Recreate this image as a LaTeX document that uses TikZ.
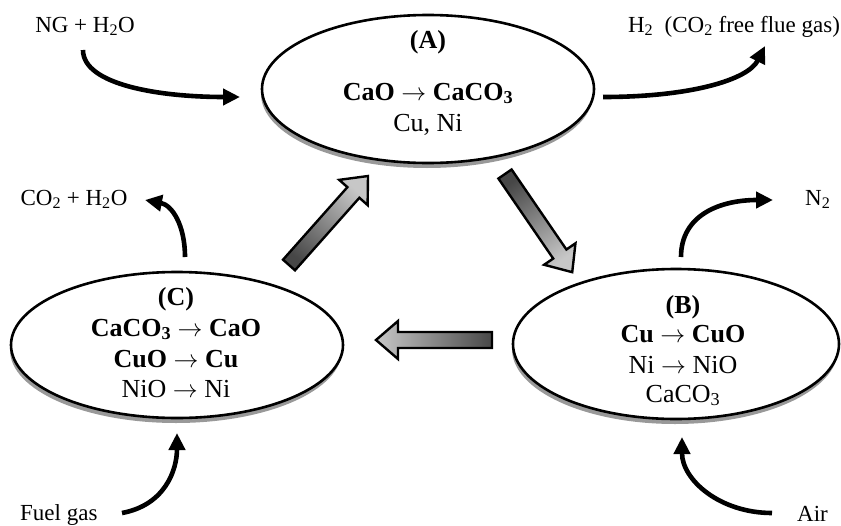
\documentclass[tikz,border=0pt]{standalone}
\usepackage{fontspec}
\setmainfont{Liberation Serif}
\usetikzlibrary{shapes.geometric,arrows.meta,shadows}
\newcommand\blockarrow[3]{%
  \begin{scope}[shift={(#1)}, rotate=#2]
    \shade[blockarr, shading angle=90+#2] (0,-8) -- (#3-22,-8) -- (#3-22,-19) -- (#3,0) -- (#3-22,19) -- (#3-22,8) -- (0,8) -- cycle;
  \end{scope}}
\newcommand\ra{\ensuremath{\rightarrow}}
\begin{document}
\begin{tikzpicture}[x=1pt,y=-1pt,
  reactor/.style={ellipse, draw=black, line width=2.6pt, fill=white, inner sep=0pt,
    minimum width=332pt, minimum height=148pt,
    drop shadow={shadow xshift=-1pt, shadow yshift=-5pt, fill=black!40, opacity=1}},
  big/.style={font=\fontsize{26}{30}\selectfont, inner sep=0pt, anchor=base},
  small/.style={font=\fontsize{23}{27}\selectfont, inner sep=0pt, anchor=base},
  flow/.style={line width=4.6pt, -{Triangle[length=17pt,width=16pt]}},
  blockarr/.style={draw=black, line width=2.4pt, left color=black!72, right color=black!22}
]
\useasboundingbox (0,0) rectangle (841,525);

% reactors
\node[reactor] (A) at (428,89) {};
\node[reactor, minimum width=326pt, minimum height=150pt] (B) at (676,344) {};
\node[reactor, minimum width=332pt, minimum height=146pt] (C) at (177,345) {};

% texts in A
\node[big] (Alab) at (428,48) {\bfseries (A)};
\node[big] (Al1) at (428,100) {\bfseries CaO \ra{} CaCO\textsubscript{3}};
\node[big] (Al2) at (428,131) {Cu, Ni};
% texts in B
\node[big] (Blab) at (683,313) {\bfseries (B)};
\node[big] (Bl1) at (683,342) {\bfseries Cu \ra{} CuO};
\node[big] (Bl2) at (683,373) {Ni \ra{} NiO};
\node[big] (Bl3) at (683,402) {CaCO\textsubscript{3}};
% texts in C
\node[big] (Clab) at (176,305) {\bfseries (C)};
\node[big] (Cl1) at (176,336) {\bfseries CaCO\textsubscript{3} \ra{} CaO};
\node[big] (Cl2) at (176,367) {\bfseries CuO \ra{} Cu};
\node[big] (Cl3) at (176,397) {NiO \ra{} Ni};

% outer labels
\node[small] (ng) at (85,32) {NG + H\textsubscript{2}O};
\node[small] (h2) at (734,32) {H\textsubscript{2}\ \ (CO\textsubscript{2} free flue gas)};
\node[small] (co2) at (74,205) {CO\textsubscript{2} + H\textsubscript{2}O};
\node[small, anchor=base west] (n2) at (805,205) {N\textsubscript{2}};
\node[small, anchor=base west] (fuel) at (20,520) {Fuel gas};
\node[small, anchor=base west] (air) at (797,521) {Air};

% curved stream arrows
\coordinate (ng0) at (83,50);   \coordinate (ng1) at (240,97);
\coordinate (h20) at (603,97);  \coordinate (h21) at (765,46);
\coordinate (co0) at (185,257); \coordinate (co1) at (145,200);
\coordinate (n20) at (681,257); \coordinate (n21) at (773,200);
\coordinate (fu0) at (122,513); \coordinate (fu1) at (177,433);
\coordinate (ai0) at (772,513); \coordinate (ai1) at (682,437);
\draw[flow] (ng0) .. controls (83,85) and (160,97) .. (ng1);
\draw[flow] (h20) .. controls (690,97) and (748,80) .. (h21);
\draw[flow] (co0) .. controls (185,225) and (172,205) .. (co1);
\draw[flow] (n20) .. controls (681,215) and (720,200) .. (n21);
\draw[flow] (fu0) .. controls (165,505) and (177,470) .. (fu1);
\draw[flow] (ai0) .. controls (720,513) and (682,480) .. (ai1);

% block arrows between reactors
\coordinate (t1) at (289,265);
\coordinate (t2) at (505,174);
\coordinate (t3) at (492,340);
\blockarrow{t1}{48.4}{119}
\blockarrow{t2}{-55.6}{119}
\blockarrow{t3}{180}{116}
\end{tikzpicture}
\end{document}
